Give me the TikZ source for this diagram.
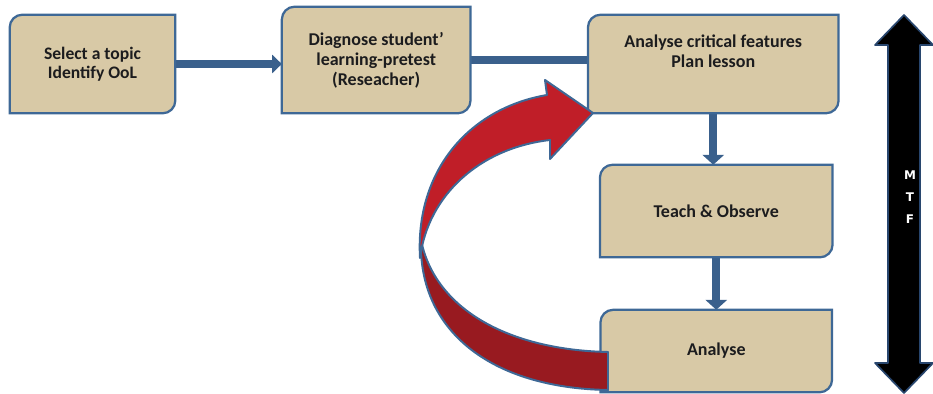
\documentclass[tikz,border=0pt]{standalone}
\usepackage{fontspec}
\setmainfont{Carlito}
\newfontfamily\mtffont{DejaVu Sans}
\usetikzlibrary{positioning,arrows.meta,backgrounds}

\definecolor{boxtan}{RGB}{216,201,166}
\definecolor{boxedge}{RGB}{62,104,150}
\definecolor{flowblue}{RGB}{58,96,140}
\definecolor{loopred}{RGB}{192,30,40}
\definecolor{loopdark}{RGB}{152,26,32}
\definecolor{mtfedge}{RGB}{40,70,110}
\definecolor{ink}{RGB}{28,28,30}

\tikzset{
  stage/.style={align=center, inner sep=0pt, text=ink,
    font=\bfseries\fontsize{12.8}{14.2}\selectfont},
  stageframe/.style={draw=boxedge, line width=1.6pt, fill=boxtan},
  flowline/.style={draw=flowblue, line width=5.5pt,
    -{Triangle[width=13pt,length=7pt]}},
  downline/.style={flowline, -{Triangle[width=15pt,length=7pt]}},
  loopedge/.style={draw=boxedge, line width=1.4pt, line join=round},
}

\begin{document}
\begin{tikzpicture}[x=0.025cm, y=0.025cm]
  \useasboundingbox (0,0) rectangle (933,394);
  \node[stage, minimum width=4.125cm, minimum height=2.45cm, font=\bfseries\fontsize{12.5}{13.5}\selectfont] (topic) at (92.5,330) {Select a topic\\Identify OoL};
  \node[stage, minimum width=4.7cm, minimum height=2.65cm, node distance=7.09cm, right of=topic, yshift=0.1cm] (diag) {Diagnose student'\\learning-pretest\\(Reseacher)};
  \node[stage, minimum width=6.25cm, minimum height=2.45cm, node distance=8.425cm, right of=diag, yshift=-0.1cm] (plan) {Analyse critical features\\Plan lesson\\\strut};
  \node[stage, minimum width=5.8cm, minimum height=2.3cm, node distance=3.675cm, below of=plan, xshift=0.075cm] (teach) {Teach \& Observe};
  \node[stage, minimum width=5.775cm, minimum height=2.05cm, node distance=3.5cm, below of=teach] (anal) {Analyse};

  \begin{scope}[on background layer]
    \draw[flowline] (topic.east) -- (topic.east -| diag.west);
    \draw[flowline, shorten >=-8pt] (diag.east) -- (diag.east -| plan.west);
    \draw[downline] (plan.south) -- (plan.south |- teach.north);
    \draw[downline] (teach.south) -- (teach.south |- anal.north);
    % tan boxes, rounded at top left and bottom right
    \foreach \b in {topic,diag,plan,teach,anal}
      \draw[stageframe] (\b.north east) -- ([yshift=9pt]\b.south east)
        arc[start angle=0, end angle=-90, radius=9pt] -- (\b.south west)
        -- ([yshift=-9pt]\b.north west)
        arc[start angle=180, end angle=90, radius=9pt] -- cycle;
  \end{scope}

  % red loop back from Analyse to planning
  \draw[loopedge, fill=loopdark] (421,154) .. controls (418,64) and (490,6) .. (608,4)
    -- (608,42) .. controls (510,44) and (435,84) .. (421,154) -- cycle;
  \draw[loopedge, fill=loopred] (420,136) .. controls (415,224) and (470,286) .. (547,299)
    -- (545,314) -- (593,281) -- (550,235) -- (550,254)
    .. controls (480,246) and (428,199) .. (420,136) -- cycle;

  % MTF double arrow
  \draw[draw=mtfedge, fill=black, line width=1.2pt, line join=round]
    (904,379) -- (933,349) -- (920,349) -- (920,31) -- (933,31) -- (904,1)
    -- (875,31) -- (888,31) -- (888,349) -- (875,349) -- cycle;
  \node[align=center, text=white, font=\mtffont\bfseries\fontsize{8.5}{15.6}\selectfont] (mtf) at (910,197) {M\\T\\F};
\end{tikzpicture}
\end{document}
